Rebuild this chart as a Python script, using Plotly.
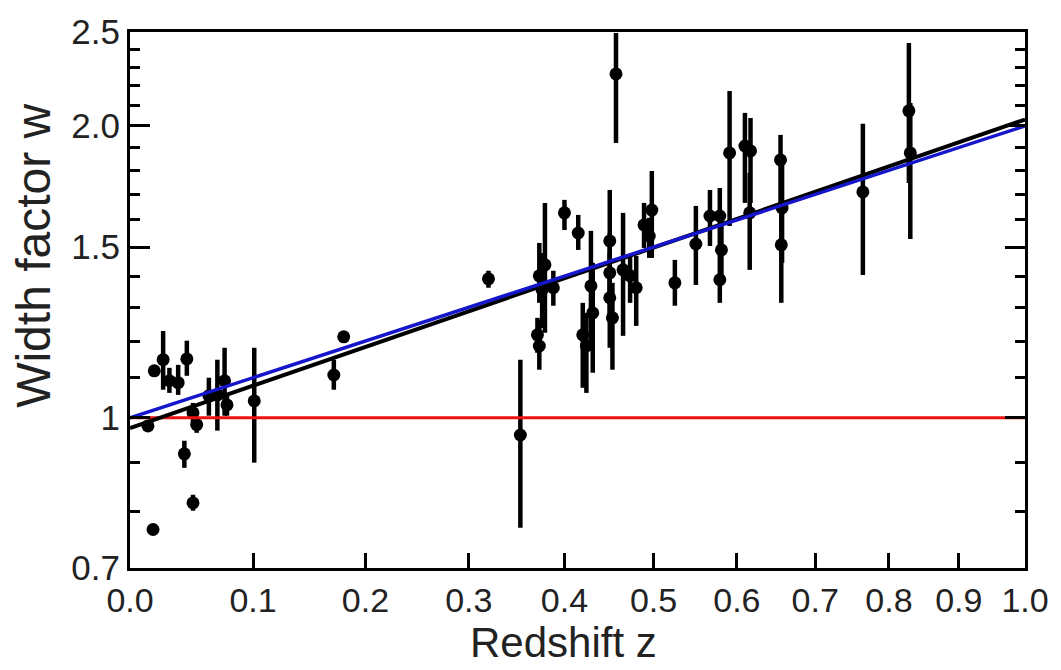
import plotly.graph_objects as go

# ---- data ----
z = [0.014, 0.018, 0.019, 0.026, 0.031, 0.038, 0.045, 0.043, 0.050, 0.050,
     0.053, 0.063, 0.070, 0.076, 0.078, 0.101, 0.171, 0.180, 0.320, 0.353,
     0.379, 0.373, 0.376, 0.371, 0.373, 0.388, 0.400, 0.415, 0.429, 0.431,
     0.420, 0.424, 0.450, 0.450, 0.450, 0.453, 0.457, 0.465, 0.473, 0.480,
     0.498, 0.489, 0.495, 0.525, 0.550, 0.567, 0.579, 0.581, 0.579, 0.591,
     0.610, 0.617, 0.616, 0.655, 0.657, 0.656, 0.764, 0.828, 0.830]
w = [0.981, 0.767, 1.118, 1.148, 1.092, 1.087, 1.150, 0.918, 0.817, 1.012,
     0.984, 1.054, 1.056, 1.092, 1.031, 1.041, 1.107, 1.212, 1.391, 0.960,
     1.438, 1.401, 1.355, 1.218, 1.186, 1.362, 1.627, 1.551, 1.368, 1.283,
     1.218, 1.186, 1.522, 1.411, 1.330, 1.268, 2.263, 1.421, 1.401, 1.362,
     1.638, 1.581, 1.540, 1.378, 1.511, 1.615, 1.615, 1.490, 1.388, 1.876,
     1.907, 1.885, 1.627, 1.845, 1.646, 1.508, 1.710, 2.073, 1.876]
w_high = [0.993, 0.774, 1.131, 1.229, 1.126, 1.134, 1.201, 0.947, 0.833, 1.036,
          1.002, 1.100, 1.148, 1.181, 1.061, 1.181, 1.148, 1.229, 1.418, 1.148,
          1.666, 1.515, 1.479, 1.268, 1.262, 1.418, 1.678, 1.619, 1.559, 1.445,
          1.314, 1.283, 1.718, 1.551, 1.479, 1.378, 2.494, 1.627, 1.469, 1.469,
          1.797, 1.666, 1.608, 1.455, 1.654, 1.718, 1.726, 1.608, 1.479, 2.173,
          2.063, 2.038, 1.789, 1.958, 1.832, 1.686, 2.010, 2.436, 2.112]
w_low = [0.970, 0.759, 1.105, 1.069, 1.061, 1.056, 1.105, 0.888, 0.802, 0.988,
         0.965, 1.005, 0.970, 1.005, 1.005, 0.899, 1.069, 1.195, 1.362, 0.770,
         1.224, 1.314, 1.238, 1.167, 1.121, 1.305, 1.562, 1.490, 1.195, 1.113,
         1.074, 1.061, 1.345, 1.268, 1.181, 1.121, 1.921, 1.215, 1.314, 1.244,
         1.462, 1.497, 1.462, 1.305, 1.371, 1.504, 1.479, 1.378, 1.314, 1.577,
         1.666, 1.666, 1.421, 1.627, 1.445, 1.314, 1.404, 1.747, 1.529]

# fitted power law w = a (1+z)^b, and the (1+z) time-dilation line
fit_a = 0.976
fit_b = 1.057
z_line = [0.0, 1.0]

x_ticks = [0.0, 0.1, 0.2, 0.3, 0.4, 0.5, 0.6, 0.7, 0.8, 0.9, 1.0]
x_ticklabels = ["0.0", "0.1", "0.2", "0.3", "0.4", "0.5", "0.6", "0.7", "0.8", "0.9", "1.0"]
y_ticks = [0.7, 1.0, 1.5, 2.0, 2.5]
y_ticklabels = ["0.7", "1", "1.5", "2.0", "2.5"]
y_minor = [0.8, 0.9, 1.1, 1.2, 1.3, 1.4, 1.6, 1.7, 1.8, 1.9, 2.1, 2.2, 2.3, 2.4]

x_title = "Redshift z"
y_title = "Width factor w"

# ---- figure ----
opz = [1 + v for v in z]
err_plus = [h - m for h, m in zip(w_high, w)]
err_minus = [m - l for m, l in zip(w, w_low)]
opz_line = [1 + v for v in z_line]

fig = go.Figure()
fig.add_trace(go.Scatter(
    x=opz, y=w, mode="markers",
    marker=dict(color="black", size=13),
    error_y=dict(type="data", symmetric=False, array=err_plus, arrayminus=err_minus,
                 color="black", thickness=4.5, width=0),
    showlegend=False))
fig.add_trace(go.Scatter(x=opz_line, y=[1.0, 1.0], mode="lines",
                         line=dict(color="#ee1111", width=3), showlegend=False))
fig.add_trace(go.Scatter(x=opz_line, y=[fit_a * v ** fit_b for v in opz_line], mode="lines",
                         line=dict(color="black", width=4), showlegend=False))
fig.add_trace(go.Scatter(x=opz_line, y=opz_line, mode="lines",
                         line=dict(color="#1515cc", width=3.5), showlegend=False))

font_family = "Liberation Sans, Arial, Helvetica, sans-serif"
fig.update_layout(
    width=1061, height=670,
    margin=dict(l=130, r=31, t=28, b=102),
    plot_bgcolor="white", paper_bgcolor="white",
    font=dict(family=font_family, color="#222222"),
    xaxis=dict(type="log", range=[0, 0.30103],
               tickvals=[1 + v for v in x_ticks], ticktext=x_ticklabels,
               ticks="inside", ticklen=15, tickwidth=2.5, tickcolor="black",
               showline=True, linewidth=3, linecolor="black", mirror=True,
               showgrid=False, zeroline=False,
               tickfont=dict(size=34)),
    yaxis=dict(type="log", range=[-0.154902, 0.39794],
               tickvals=y_ticks, ticktext=y_ticklabels,
               ticks="inside", ticklen=20, tickwidth=2.5, tickcolor="black",
               minor=dict(tickvals=y_minor, ticks="inside", ticklen=10, tickwidth=2.5,
                          tickcolor="black", showgrid=False),
               showline=True, linewidth=3, linecolor="black", mirror="allticks",
               showgrid=False, zeroline=False,
               tickfont=dict(size=35)),
    annotations=[
        dict(text=x_title, xref="paper", yref="paper", x=0.484, y=-0.187,
             xanchor="center", yanchor="bottom", showarrow=False,
             font=dict(size=42, family=font_family, color="#222222")),
        dict(text=y_title, xref="paper", yref="paper", x=-0.108, y=0.583,
             xanchor="center", yanchor="middle", textangle=-90, showarrow=False,
             font=dict(size=48, family=font_family, color="#222222")),
    ],
)

fig.write_html("out.html")
